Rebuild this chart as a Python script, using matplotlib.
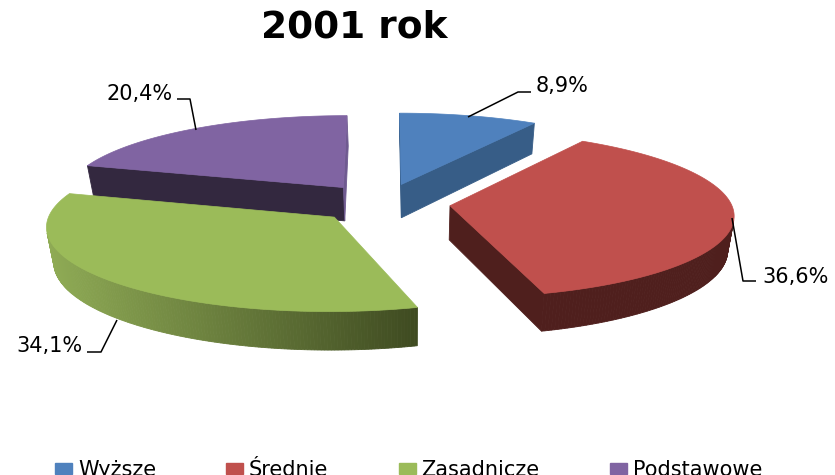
import numpy as np
import matplotlib
matplotlib.use("Agg")
import matplotlib.pyplot as plt
from matplotlib.patches import Patch, Polygon
from matplotlib.colors import to_rgb

# --- data ---
categories = ["Wyższe", "Średnie", "Zasadnicze", "Podstawowe"]
values = [8.9, 36.6, 34.1, 20.4]
value_labels = ["8,9%", "36,6%", "34,1%", "20,4%"]
title = "2001 rok"

# --- styles ---
top_colors = ["#4f81bd", "#c0504d", "#9bbb59", "#8064a2"]
wall_colors = ["#375d87", "#4f1f1d", None, "#33283f"]
closing_cut_colors = [None, None, None, "#6f5a90"]
green_wall = ("#8fab55", "#3f4b21")
draw_order = [3, 0, 1, 2]

# perspective geometry (pixels)
CX, CY, A, B, K = 383, 203, 281, 82, 0.10
EXPLODE, DEPTH, VX, SHRINK = 0.24, 34, 410, 0.98


def project(X, Y):
    den = 1 + K * Y
    return CX + A * X / den, CY - B * Y / den


def project_bottom(X, Y):
    sx, sy = project(X, Y)
    return VX + (sx - VX) * SHRINK, sy + DEPTH / (1 + K * Y)


fig = plt.figure(figsize=(8.35, 4.75), dpi=100, facecolor="white")
ax = fig.add_axes([0, 0, 1, 1])
ax.set_xlim(0, 835)
ax.set_ylim(475, 0)
ax.axis("off")

fractions = np.array(values) / np.sum(values)
edges = np.concatenate([[0], np.cumsum(fractions)]) * 2 * np.pi

for i in draw_order:
    t0, t1 = edges[i], edges[i + 1]
    mid = (t0 + t1) / 2
    ox, oy = EXPLODE * np.sin(mid), EXPLODE * np.cos(mid)
    th = np.linspace(t0, t1, 200)
    X = np.concatenate([[ox], ox + np.sin(th), [ox]])
    Y = np.concatenate([[oy], oy + np.cos(th), [oy]])
    tx, ty = project(X, Y)
    bx, by = project_bottom(X, Y)
    for j in range(len(X) - 1):
        qx = [tx[j], tx[j + 1], bx[j + 1], bx[j]]
        qy = [ty[j], ty[j + 1], by[j + 1], by[j]]
        area = sum(qx[n] * qy[(n + 1) % 4] - qx[(n + 1) % 4] * qy[n] for n in range(4))
        if area >= 0:
            continue
        if wall_colors[i] is None:
            f = np.clip((np.mean(qx) - 50) / (415 - 50), 0, 1)
            c = (1 - f) * np.array(to_rgb(green_wall[0])) + f * np.array(to_rgb(green_wall[1]))
        elif j == len(X) - 2 and closing_cut_colors[i]:
            c = closing_cut_colors[i]
        else:
            c = wall_colors[i]
        ax.add_patch(Polygon(np.column_stack([qx, qy]), closed=True, fc=c, ec=c, lw=0.6))
    ax.add_patch(Polygon(np.column_stack([tx, ty]), closed=True, fc=top_colors[i], ec=top_colors[i], lw=0.5))

# leader lines and labels (layout)
leaders = [
    ([468, 518, 531], [117, 92, 92], 536, 86, "left"),
    ([732, 743, 756], [218, 281, 281], 762, 277, "left"),
    ([117, 101, 87], [320, 352, 352], 82, 346, "right"),
    ([196, 190, 177], [130, 99, 99], 173, 94, "right"),
]
for (lx, ly, tx_, ty_, ha), lab in zip(leaders, value_labels):
    ax.plot(lx, ly, color="black", lw=1.1, solid_capstyle="butt")
    ax.text(tx_, ty_, lab, ha=ha, va="center", fontsize=15, family="DejaVu Sans", color="black")

ax.text(354, 27, title, ha="center", va="center", fontsize=27, fontweight="bold",
        family="DejaVu Sans", color="black")

handles = [Patch(fc=c, ec=c) for c in top_colors]
fs = 15
px = fs * 100 / 72
leg = ax.legend(handles, categories, ncol=4, frameon=False, fontsize=fs,
                loc="lower left", bbox_to_anchor=(55 / 835, -5 / 475), borderpad=0, borderaxespad=0,
                handlelength=17 / px, handleheight=10 / px, handletextpad=6 / px,
                columnspacing=70 / px, prop={"family": "DejaVu Sans", "size": fs})

fig.savefig("out.png", dpi=100)
